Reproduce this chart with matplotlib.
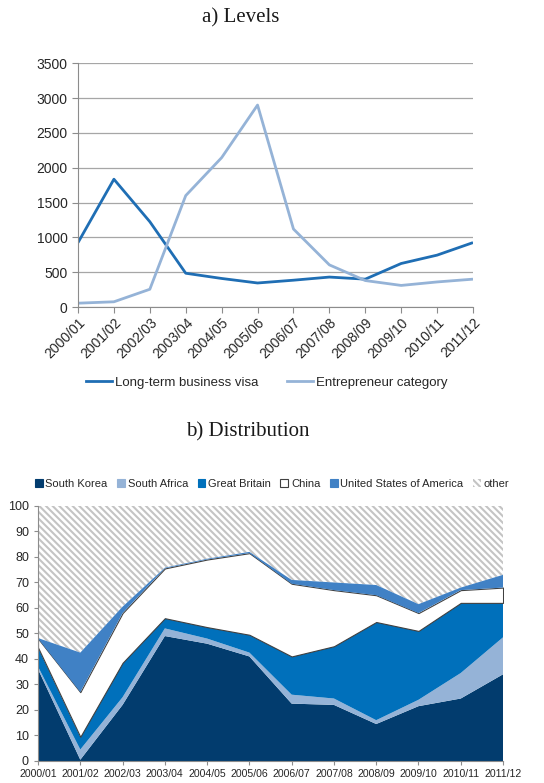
import numpy as np
import matplotlib
matplotlib.use("Agg")
import matplotlib.pyplot as plt
from matplotlib.patches import Patch
from matplotlib.lines import Line2D

SANS = ['Liberation Sans Narrow', 'Liberation Sans', 'DejaVu Sans']
SERIF = ['Liberation Serif', 'DejaVu Serif']

years = ['2000/01', '2001/02', '2002/03', '2003/04', '2004/05', '2005/06',
         '2006/07', '2007/08', '2008/09', '2009/10', '2010/11', '2011/12']

# a) visa numbers
long_term = [925, 1835, 1225, 485, 410, 345, 385, 430, 400, 625, 745, 925]
entrepreneur = [55, 75, 255, 1600, 2145, 2900, 1120, 605, 380, 310, 360, 400]

# b) share of applicants by country, percent
south_korea = [36, 0.5, 22, 49, 46, 41, 22.5, 22, 14.5, 21.5, 24.5, 34]
south_africa = [1, 4, 3, 3, 2, 1.5, 3.5, 2.5, 1.5, 2.5, 10, 14.5]
great_britain = [7.5, 5, 13.5, 4, 4.5, 7, 15, 20.5, 38.5, 27, 27.5, 13.5]
china = [3.5, 17.5, 19.5, 19.5, 26.5, 32, 28.5, 22, 10.5, 7, 5, 6]
usa = [0.2, 15.5, 2.5, 0.3, 0.3, 0.5, 1.5, 3, 4, 3.5, 1, 5]

HATCH_GREY = '#c4c4c4'
HATCH = '\\' * 5
plt.rcParams['font.family'] = SANS
plt.rcParams['hatch.linewidth'] = 1.5
plt.rcParams['hatch.color'] = HATCH_GREY

AXIS_GREY = '#8c8c8c'
TEXT = '#262626'

fig = plt.figure(figsize=(5.44, 7.83), dpi=100)
x = np.arange(len(years))

# ---- a) Levels ----
ax1 = fig.add_axes([0.1434, 0.6079, 0.7261, 0.3113])
ax1.plot(x, long_term, color='#1f6eb4', lw=2.0, label='Long-term business visa', solid_capstyle='butt')
ax1.plot(x, entrepreneur, color='#95b3d7', lw=2.0, label='Entrepreneur category', solid_capstyle='butt')
ax1.set_xlim(0, len(years) - 1)
ax1.set_ylim(0, 3500)
ax1.set_yticks(np.arange(0, 3501, 500))
ax1.set_xticks(x)
ax1.set_xticklabels(years, rotation=45, ha='right', rotation_mode='anchor')
ax1.yaxis.grid(True, color='#a6a6a6', lw=0.9)
ax1.set_axisbelow(True)
for s in ['top', 'right']:
    ax1.spines[s].set_visible(False)
for s in ['left', 'bottom']:
    ax1.spines[s].set_color(AXIS_GREY)
ax1.tick_params(axis='both', colors=AXIS_GREY, labelcolor=TEXT, labelsize=10, length=4, width=0.8)
ax1.tick_params(axis='x', pad=2)

fig.legend(handles=[Line2D([], [], color='#1f6eb4', lw=2.0),
                    Line2D([], [], color='#95b3d7', lw=2.0)],
           labels=['Long-term business visa', 'Entrepreneur category'],
           loc='center', bbox_to_anchor=(0.49, 0.511), ncol=2, frameon=False,
           fontsize=9.5, handlelength=2.0, handletextpad=0.2, columnspacing=2.2,
           labelcolor=TEXT)

fig.text(0.443, 0.977, 'a) Levels', ha='center', va='center', fontsize=15,
         family=SERIF, color='#1a1a1a')

# ---- b) Distribution ----
ax2 = fig.add_axes([0.0699, 0.0281, 0.8548, 0.3257])
layers = [south_korea, south_africa, great_britain, china, usa]
colors = ['#023c6e', '#95b3d7', '#0070bb', 'white', '#4081c5']
names = ['South Korea', 'South Africa', 'Great Britain', 'China', 'United States of America']
tops = np.cumsum(np.array(layers, dtype=float), axis=0)
bottoms = np.vstack([np.zeros(len(years)), tops[:-1]])

# remainder up to 100 % is "other"
ax2.fill_between(x, tops[-1], 100, facecolor='white', edgecolor=HATCH_GREY,
                 hatch=HATCH, lw=0)
for i, (name, col) in enumerate(zip(names, colors)):
    if name == 'China':
        ax2.fill_between(x, bottoms[i], tops[i], facecolor=col, edgecolor='#404040', lw=0.8)
    else:
        ax2.fill_between(x, bottoms[i], tops[i], facecolor=col, lw=0)

ax2.set_xlim(0, len(years) - 1)
ax2.set_ylim(0, 100)
ax2.set_yticks(np.arange(0, 101, 10))
ax2.set_xticks(x)
ax2.set_xticklabels(years)
for s in ['top', 'right']:
    ax2.spines[s].set_visible(False)
for s in ['left', 'bottom']:
    ax2.spines[s].set_color(AXIS_GREY)
ax2.tick_params(axis='y', colors=AXIS_GREY, labelcolor=TEXT, labelsize=9, length=3, width=0.8)
ax2.tick_params(axis='x', colors=AXIS_GREY, labelcolor=TEXT, labelsize=7.6, length=3, width=0.8, pad=3)

handles = [Patch(facecolor=c, edgecolor='#404040' if n == 'China' else c, lw=0.8)
           for n, c in zip(names, colors)]
handles.append(Patch(facecolor='white', edgecolor=HATCH_GREY, hatch=HATCH, lw=0))
fig.legend(handles=handles, labels=names + ['other'], loc='center',
           bbox_to_anchor=(0.5, 0.382), ncol=6, frameon=False, fontsize=8,
           handlelength=0.7, handleheight=0.7, handletextpad=0.25,
           columnspacing=0.85, labelcolor=TEXT)

fig.text(0.456, 0.448, 'b) Distribution', ha='center', va='center', fontsize=15,
         family=SERIF, color='#1a1a1a')

fig.savefig('out.png', dpi=100)
